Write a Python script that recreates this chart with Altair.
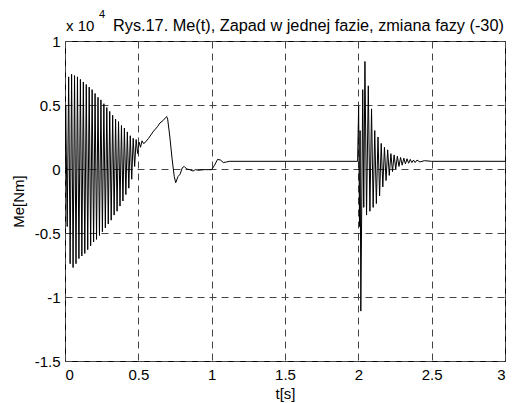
import altair as alt
import pandas as pd

# Electromagnetic torque Me(t), values in units of 10^4 Nm

# start-up oscillation, successive peaks
t_start = [0.000, 0.005, 0.015, 0.025, 0.035, 0.045, 0.055, 0.065, 0.075, 0.085,
           0.095, 0.105, 0.115, 0.125, 0.135, 0.145, 0.155, 0.165, 0.175, 0.185,
           0.195, 0.205, 0.215, 0.225, 0.235, 0.245, 0.255, 0.265, 0.275, 0.285,
           0.295, 0.305, 0.315, 0.325, 0.335, 0.345, 0.355, 0.365, 0.375, 0.385,
           0.395, 0.405, 0.415, 0.425, 0.435, 0.445, 0.455, 0.465, 0.475, 0.485,
           0.495, 0.505, 0.515, 0.525, 0.535]
me_start = [0.00, 0.50, -0.45, 0.72, -0.74, 0.74, -0.77, 0.73, -0.74, 0.72,
            -0.70, 0.70, -0.68, 0.68, -0.66, 0.66, -0.63, 0.64, -0.60, 0.62,
            -0.57, 0.59, -0.55, 0.56, -0.52, 0.54, -0.49, 0.51, -0.46, 0.48,
            -0.43, 0.45, -0.40, 0.42, -0.36, 0.39, -0.33, 0.37, -0.29, 0.34,
            -0.25, 0.32, -0.20, 0.29, -0.15, 0.26, -0.08, 0.24, 0.02, 0.23,
            0.12, 0.21, 0.17, 0.22, 0.20]

# run-up hump and settling to steady state
t_settle = [0.545, 0.570, 0.600, 0.630, 0.648, 0.670, 0.685, 0.693, 0.700, 0.715,
            0.730, 0.745, 0.755, 0.770, 0.785, 0.800, 0.813, 0.830, 0.850, 0.873,
            0.890, 0.910, 0.950, 1.000, 1.020, 1.040, 1.060, 1.080, 1.100, 1.120,
            1.995]
me_settle = [0.205, 0.24, 0.29, 0.33, 0.36, 0.38, 0.40, 0.41, 0.39, 0.25,
             0.08, -0.06, -0.107, -0.06, -0.04, 0.01, 0.02, 0.00, -0.005, -0.016,
             -0.005, -0.01, -0.005, -0.005, 0.03, 0.075, 0.07, 0.05, 0.055, 0.06,
             0.06]

# voltage dip in one phase with phase shift (-30) at t = 2 s
t_dip = [2.002, 2.008, 2.012, 2.017, 2.030, 2.037, 2.045, 2.056, 2.068, 2.079,
         2.090, 2.101, 2.112, 2.123, 2.134, 2.145, 2.156, 2.167, 2.178, 2.189,
         2.200, 2.211, 2.222, 2.233, 2.244, 2.255, 2.266, 2.277, 2.288, 2.299,
         2.310, 2.321, 2.332, 2.343, 2.354, 2.365, 2.376, 2.387, 2.400, 2.420,
         2.450, 2.500, 3.000]
me_dip = [0.49, -0.45, 0.30, -1.11, 0.62, -0.30, 0.84, -0.36, 0.65, -0.33,
          0.47, -0.30, 0.30, -0.27, 0.25, -0.21, 0.20, -0.14, 0.17, -0.09,
          0.15, -0.05, 0.12, -0.02, 0.11, 0.00, 0.10, 0.02, 0.09, 0.03,
          0.085, 0.04, 0.08, 0.045, 0.075, 0.05, 0.07, 0.05, 0.07, 0.055,
          0.065, 0.06, 0.06]

x_ticks = [0, 0.5, 1, 1.5, 2, 2.5, 3]
y_ticks = [-1.5, -1, -0.5, 0, 0.5, 1]

title_text = "Rys.17. Me(t), Zapad w jednej fazie, zmiana fazy (-30)"

df = pd.DataFrame({
    "t": t_start + t_settle + t_dip,
    "me": me_start + me_settle + me_dip,
})

FONT = "Liberation Sans"
AXIS_FS = 15

line = alt.Chart(df).mark_line(color="black", strokeWidth=1, clip=True).encode(
    x=alt.X("t:Q",
            scale=alt.Scale(domain=[0, 3], nice=False, zero=False),
            axis=alt.Axis(values=x_ticks, title="t[s]",
                          labelExpr="'' + datum.value")),
    y=alt.Y("me:Q",
            scale=alt.Scale(domain=[-1.5, 1], nice=False, zero=False),
            axis=alt.Axis(values=y_ticks, title="Me[Nm]",
                          labelExpr="'' + datum.value")),
)


def label(text, size, dx, dy):
    return alt.Chart(pd.DataFrame({"s": [text]})).mark_text(
        font=FONT, fontSize=size, align="left", baseline="alphabetic",
        color="black"
    ).encode(x=alt.value(dx), y=alt.value(dy), text="s:N")


# axis multiplier "x 10^4" and the figure caption above the frame
exp_base = label("x 10", AXIS_FS, 1, -10)
exp_pow = label("4", 11, 34, -23)
caption = label(title_text, 16.3, 48, -10)

chart = alt.layer(line, exp_base, exp_pow, caption).properties(
    width=440,
    height=320,
    autosize=alt.AutoSizeParams(type="none"),
    padding={"left": 65, "top": 41, "right": 10, "bottom": 42},
).configure_view(
    stroke="black", strokeWidth=1
).configure_axis(
    domain=False,
    ticks=False,
    grid=True,
    gridColor="#444444",
    gridDash=[7, 5],
    gridWidth=1,
    gridOpacity=1,
    labelFont=FONT,
    labelFontSize=AXIS_FS,
    labelColor="black",
    titleFont=FONT,
    titleFontSize=AXIS_FS,
    titleFontWeight="normal",
    titleColor="black",
).configure_axisX(
    labelPadding=6, titlePadding=4
).configure_axisY(
    labelPadding=5, titlePadding=8
)

chart.save("out.html", embed_options={"renderer": "svg", "actions": False})
